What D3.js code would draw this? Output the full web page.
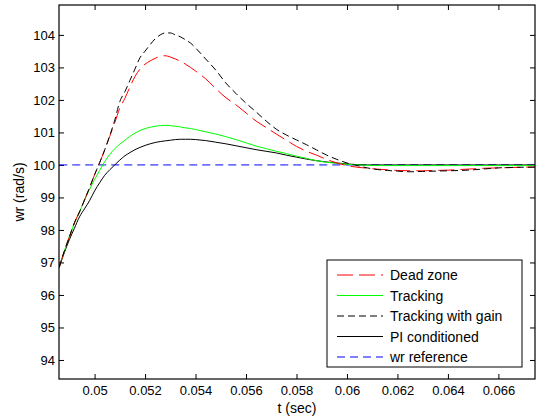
<!DOCTYPE html>
<html>
<head>
<meta charset="utf-8">
<script src="https://cdn.jsdelivr.net/npm/d3@7"></script>
<style>
  body { margin: 0; background: #fff; }
  text { font-family: "Liberation Sans", Arial, sans-serif; }
</style>
</head>
<body>
<script>
// time samples (sec)
var t = [0.0486, 0.0488, 0.049, 0.0492, 0.0494, 0.0496, 0.0498, 0.05, 0.0502, 0.0504,
         0.0506, 0.0508, 0.051, 0.0512, 0.0514, 0.0516, 0.0518, 0.052, 0.0522, 0.0524,
         0.0526, 0.0528, 0.053, 0.0532, 0.0534, 0.0536, 0.0538, 0.054, 0.0544, 0.0548,
         0.0552, 0.0556, 0.056, 0.0564, 0.0568, 0.0572, 0.0576, 0.058, 0.0584, 0.0588,
         0.0592, 0.0596, 0.06, 0.0604, 0.0608, 0.0612, 0.0616, 0.062, 0.0625, 0.063,
         0.0635, 0.064, 0.0645, 0.065, 0.0655, 0.066, 0.0665, 0.067, 0.0675];

var deadZone = [96.85, 97.35, 97.78, 98.22, 98.55, 98.92, 99.3, 99.7, 100.07, 100.46,
                100.88, 101.3, 101.75, 102.05, 102.4, 102.72, 102.95, 103.1, 103.2, 103.28,
                103.34, 103.36, 103.32, 103.26, 103.19, 103.1, 103.0, 102.89, 102.65, 102.35,
                102.07, 101.85, 101.6, 101.35, 101.15, 100.95, 100.76, 100.57, 100.42, 100.3,
                100.17, 100.06, 99.98, 99.93, 99.9, 99.87, 99.85, 99.83, 99.82, 99.82,
                99.83, 99.84, 99.86, 99.88, 99.9, 99.91, 99.92, 99.93, 99.94];

var tracking = [96.85, 97.35, 97.8, 98.2, 98.55, 98.92, 99.25, 99.55, 99.83, 100.1,
                100.32, 100.5, 100.64, 100.76, 100.88, 100.98, 101.06, 101.12, 101.16, 101.19,
                101.21, 101.22, 101.21, 101.19, 101.17, 101.14, 101.12, 101.09, 101.02, 100.95,
                100.87, 100.78, 100.68, 100.58, 100.5, 100.42, 100.35, 100.27, 100.2, 100.13,
                100.08, 100.05, 100.02, 100.0, 99.99, 99.98, 99.98, 99.98, 99.98, 99.98,
                99.98, 99.98, 99.98, 99.98, 99.98, 99.98, 99.98, 99.98, 99.98];

var trackingGain = [96.85, 97.35, 97.78, 98.22, 98.55, 98.92, 99.3, 99.7, 100.07, 100.46,
                    100.9, 101.38, 101.95, 102.25, 102.6, 102.95, 103.3, 103.5, 103.7, 103.88,
                    104.0, 104.06, 104.06, 104.0, 103.94, 103.85, 103.75, 103.6, 103.26, 102.92,
                    102.52, 102.2, 101.9, 101.63, 101.35, 101.1, 100.92, 100.77, 100.62, 100.46,
                    100.3, 100.17, 100.06, 99.98, 99.91, 99.86, 99.83, 99.81, 99.79, 99.8,
                    99.81, 99.82, 99.83, 99.85, 99.88, 99.91, 99.92, 99.93, 99.93];

var piConditioned = [96.85, 97.3, 97.7, 98.05, 98.4, 98.65, 98.9, 99.2, 99.45, 99.68,
                     99.85, 100.0, 100.15, 100.28, 100.38, 100.47, 100.54, 100.6, 100.65, 100.69,
                     100.72, 100.74, 100.76, 100.78, 100.79, 100.79, 100.79, 100.78, 100.75, 100.7,
                     100.65, 100.59, 100.53, 100.47, 100.42, 100.37, 100.3, 100.24, 100.18, 100.13,
                     100.09, 100.06, 100.03, 100.01, 100.0, 100.0, 100.0, 100.0, 100.0, 100.0,
                     100.0, 100.0, 100.0, 100.0, 100.0, 100.0, 100.0, 100.0, 100.0];

var wrRef = t.map(function () { return 100; });

var xTicks = [0.05, 0.052, 0.054, 0.056, 0.058, 0.06, 0.062, 0.064, 0.066];
var yTicks = [94, 95, 96, 97, 98, 99, 100, 101, 102, 103, 104];

var series = [
  { name: "Dead zone", values: deadZone, color: "#ff0000", dash: "16,6" },
  { name: "Tracking", values: tracking, color: "#00ff00", dash: null },
  { name: "Tracking with gain", values: trackingGain, color: "#000000", dash: "7,4" },
  { name: "PI conditioned", values: piConditioned, color: "#000000", dash: null },
  { name: "wr reference", values: wrRef, color: "#0000ff", dash: "8,5" }
];

var W = 536, H = 418;
var margin = { top: 5, right: 1, bottom: 39, left: 59 };
var w = W - margin.left - margin.right;
var h = H - margin.top - margin.bottom;

var x = d3.scaleLinear().domain([0.04859, 0.06745]).range([0, w]);
var y = d3.scaleLinear().domain([93.415, 104.92]).range([h, 0]);

var svg = d3.select("body").append("svg")
  .attr("width", W)
  .attr("height", H);

var g = svg.append("g").attr("transform", "translate(" + margin.left + "," + margin.top + ")");

g.append("clipPath").attr("id", "clip")
  .append("rect").attr("width", w).attr("height", h);

var fmtX = function (d) { return String(+d.toFixed(3)); };

// axes, ticks pointing inward like matlab
var xBottom = g.append("g").attr("transform", "translate(0," + h + ")")
  .call(d3.axisBottom(x).tickValues(xTicks).tickFormat(fmtX).tickSizeInner(-5).tickSizeOuter(0).tickPadding(7));
var xTop = g.append("g")
  .call(d3.axisTop(x).tickValues(xTicks).tickFormat("").tickSizeInner(-5).tickSizeOuter(0));
var yLeft = g.append("g")
  .call(d3.axisLeft(y).tickValues(yTicks).tickSizeInner(-5).tickSizeOuter(0).tickPadding(4));
var yRight = g.append("g").attr("transform", "translate(" + w + ",0)")
  .call(d3.axisRight(y).tickValues(yTicks).tickFormat("").tickSizeInner(-5).tickSizeOuter(0));

[xBottom, xTop, yLeft, yRight].forEach(function (a) {
  a.select(".domain").remove();
  a.selectAll("line").attr("stroke", "#000");
  a.selectAll("text").attr("fill", "#000").style("font-size", "13px");
});

var line = d3.line()
  .x(function (d, i) { return x(t[i]); })
  .y(function (d) { return y(d); })
  .curve(d3.curveMonotoneX);

var lines = g.append("g").attr("clip-path", "url(#clip)");
// draw reference first, then the rest
var order = [4, 3, 1, 0, 2];
order.forEach(function (k) {
  var s = series[k];
  lines.append("path")
    .datum(s.values)
    .attr("d", line)
    .attr("fill", "none")
    .attr("stroke", s.color)
    .attr("stroke-width", 1)
    .attr("stroke-dasharray", s.dash);
});

// box
g.append("rect")
  .attr("width", w).attr("height", h)
  .attr("fill", "none").attr("stroke", "#000").attr("stroke-width", 1.2);

// axis labels
svg.append("text")
  .attr("x", margin.left + w / 2).attr("y", 413)
  .attr("text-anchor", "middle").style("font-size", "14px")
  .text("t (sec)");

svg.append("text")
  .attr("transform", "translate(24," + (margin.top + h / 2) + ") rotate(-90)")
  .attr("text-anchor", "middle").style("font-size", "14px")
  .text("wr (rad/s)");

// legend
var lg = svg.append("g").attr("transform", "translate(327,260)");
lg.append("rect")
  .attr("width", 195).attr("height", 107)
  .attr("fill", "#fff").attr("stroke", "#000").attr("stroke-width", 1);

series.forEach(function (s, i) {
  var yy = 15 + i * 20.5;
  lg.append("line")
    .attr("x1", 10).attr("x2", 56).attr("y1", yy).attr("y2", yy)
    .attr("stroke", s.color).attr("stroke-width", 1)
    .attr("stroke-dasharray", s.dash);
  lg.append("text")
    .attr("x", 63).attr("y", yy + 5)
    .style("font-size", "14px")
    .text(s.name);
});
</script>
</body>
</html>
